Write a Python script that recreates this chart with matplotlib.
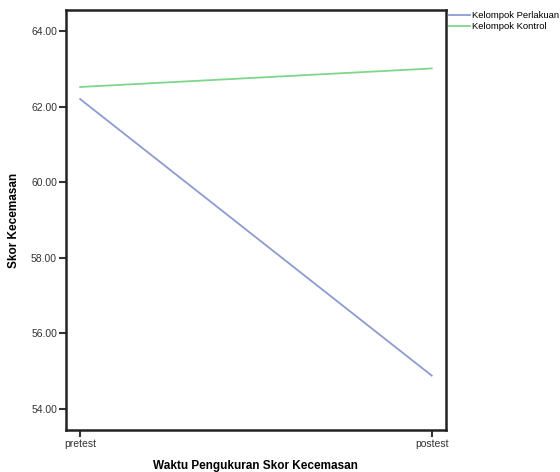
import matplotlib
matplotlib.use('Agg')
import matplotlib.pyplot as plt

plt.rcParams['font.family'] = ['Liberation Sans', 'DejaVu Sans']

waktu = ['pretest', 'postest']
perlakuan = [62.2, 54.88]
kontrol = [62.52, 63.01]
y_ticks = [54.0, 56.0, 58.0, 60.0, 62.0, 64.0]

fig = plt.figure(figsize=(5.6, 4.72), dpi=100)
ax = fig.add_axes([0.118, 0.089, 0.678, 0.890])

x = list(range(len(waktu)))
ax.plot(x, perlakuan, color='#8c9bd2', linewidth=1.3, label='Kelompok Perlakuan')
ax.plot(x, kontrol, color='#7ed68b', linewidth=1.3, label='Kelompok Kontrol')

ax.set_xlim(-0.04, 1.04)
ax.set_ylim(53.44, 64.56)
ax.set_xticks(x)
ax.set_xticklabels(waktu)
ax.set_yticks(y_ticks)
ax.set_yticklabels(['%.2f' % v for v in y_ticks])
ax.tick_params(direction='out', length=5, width=1.5, labelsize=7.5, colors='#333333', pad=1.5)

for s in ax.spines.values():
    s.set_linewidth(1.8)
    s.set_color('#222222')

ax.set_xlabel('Waktu Pengukuran Skor Kecemasan', fontsize=8.5, fontweight='bold', labelpad=8)
ax.set_ylabel('Skor Kecemasan', fontsize=8.5, fontweight='bold', labelpad=8)

fig.legend(loc='upper left', bbox_to_anchor=(0.795, 0.985), frameon=False, fontsize=6.8,
           handlelength=2.2, handletextpad=0.2, labelspacing=0.25, borderaxespad=0)

fig.savefig('out.png', dpi=100, facecolor='white')
plt.close()
